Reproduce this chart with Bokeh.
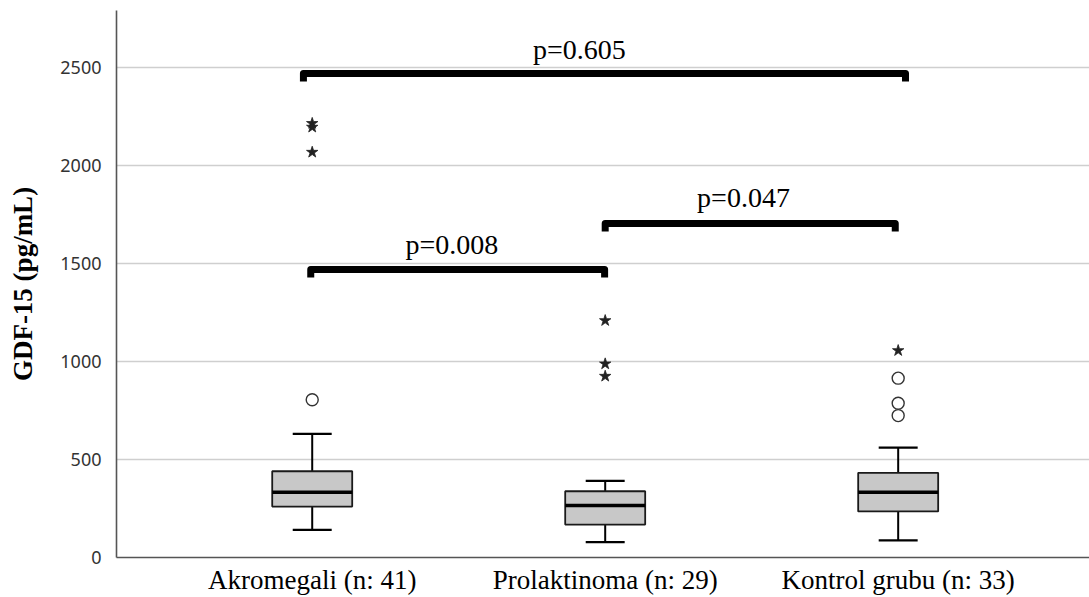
from bokeh.plotting import figure
from bokeh.models import FixedTicker, Range1d
from bokeh.core.properties import value
from bokeh.embed import file_html
from bokeh.resources import INLINE

# ---- data ----
categories = ["Akromegali (n: 41)", "Prolaktinoma (n: 29)", "Kontrol grubu (n: 33)"]
positions = [1, 2, 3]
q1 = [260, 168, 235]
median = [333, 265, 333]
q3 = [440, 338, 432]
whisker_low = [141, 78, 87]
whisker_high = [631, 391, 561]

mild_group = [1, 3, 3, 3]
mild_value = [805, 915, 787, 724]

extreme_group = [1, 1, 1, 2, 2, 2, 3]
extreme_value = [2215, 2196, 2068, 1209, 988, 925, 1056]

bracket_x0 = [0.995, 2.0, 0.97]
bracket_x1 = [1.998, 2.99, 3.025]
bracket_y = [1469, 1704, 2469]
p_labels = ["p=0.008", "p=0.047", "p=0.605"]
p_label_x = [1.477, 2.472, 1.912]
p_label_y = [1597, 1837, 2592]

y_ticks = [0, 500, 1000, 1500, 2000, 2500]

# ---- styling ----
BOX_W = 0.273
CAP_W = 0.133
DROP = 40
SERIF = "Liberation Serif"

p = figure(width=1089, height=597, output_backend="svg", toolbar_location=None,
           x_range=Range1d(0.332, 3.653), y_range=Range1d(0, 2791),
           min_border_left=116, min_border_right=0, min_border_top=10,
           min_border_bottom=40)
p.outline_line_color = None
p.background_fill_color = "white"

# grid
p.xgrid.visible = False
p.ygrid.ticker = FixedTicker(ticks=y_ticks)
p.ygrid.grid_line_color = "#cfcfcf"
p.ygrid.grid_line_width = 1.6

# axes
p.xaxis.ticker = FixedTicker(ticks=positions)
p.xaxis.major_label_overrides = {pos: lab for pos, lab in zip(positions, categories)}
p.xaxis.axis_label = None
for ax in (p.xaxis[0], p.yaxis[0]):
    ax.major_tick_line_color = None
    ax.minor_tick_line_color = None
    ax.axis_line_color = "#555555"
    ax.axis_line_width = 1.6
p.xaxis.major_label_text_font = SERIF
p.xaxis.major_label_text_font_size = "27px"
p.xaxis.major_label_text_color = "black"
p.xaxis.major_label_standoff = 1
p.yaxis.major_label_text_font = "Noto Sans"
p.yaxis.major_label_text_font_size = "18px"
p.yaxis.major_label_text_color = "#333333"
p.yaxis.major_label_standoff = 9
p.yaxis.axis_label = "GDF-15 (pg/mL)"
p.yaxis.axis_label_text_font = SERIF
p.yaxis.axis_label_text_font_style = "bold"
p.yaxis.axis_label_text_font_size = "27px"
p.yaxis.axis_label_text_color = "black"
p.yaxis.axis_label_standoff = 19

# whiskers
p.segment(x0=positions, y0=whisker_low, x1=positions, y1=q1, line_color="black", line_width=2)
p.segment(x0=positions, y0=q3, x1=positions, y1=whisker_high, line_color="black", line_width=2)
p.segment(x0=[x - CAP_W / 2 for x in positions], y0=whisker_low,
          x1=[x + CAP_W / 2 for x in positions], y1=whisker_low, line_color="black", line_width=2.2)
p.segment(x0=[x - CAP_W / 2 for x in positions], y0=whisker_high,
          x1=[x + CAP_W / 2 for x in positions], y1=whisker_high, line_color="black", line_width=2.2)

# boxes
p.vbar(x=positions, width=BOX_W, bottom=q1, top=q3, fill_color="#c8c8c8",
       line_color="#1a1a1a", line_width=1.8)
p.segment(x0=[x - BOX_W / 2 for x in positions], y0=median,
          x1=[x + BOX_W / 2 for x in positions], y1=median, line_color="black", line_width=3.5)

# outliers
p.scatter(x=mild_group, y=mild_value, marker="circle", size=12, fill_color="white",
          line_color="#333333", line_width=1.4)
p.scatter(x=extreme_group, y=extreme_value, marker="star", size=12, fill_color="#222222",
          line_color="#222222", line_width=0.8)

# brackets
xs = [[a, a, b, b] for a, b in zip(bracket_x0, bracket_x1)]
ys = [[y - DROP, y, y, y - DROP] for y in bracket_y]
p.multi_line(xs=xs, ys=ys, line_color="black", line_width=7, line_join="round", line_cap="butt")

p.text(x=p_label_x, y=p_label_y, text=p_labels, text_font=value(SERIF),
       text_font_size="28px", text_align="center", text_baseline="alphabetic", text_color="black")

open("out.html", "w").write(file_html(p, INLINE))
